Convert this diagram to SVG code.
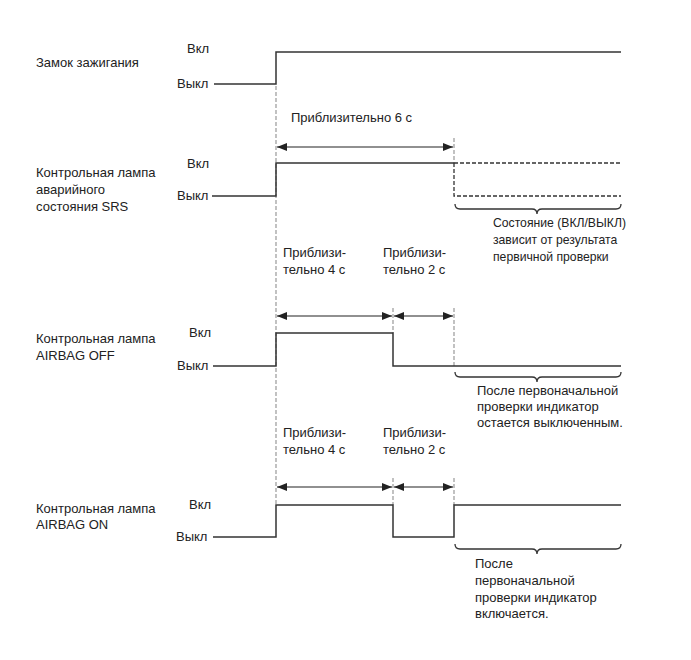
<svg xmlns="http://www.w3.org/2000/svg" width="691" height="660" viewBox="0 0 691 660">
<defs>
<marker id="ah" viewBox="0 0 10 8" refX="10" refY="4" markerWidth="10" markerHeight="8" markerUnits="userSpaceOnUse" orient="auto-start-reverse">
<path d="M0,0 L10,4 L0,8 Z" fill="#222"/>
</marker>
<style>
text{font-family:"Liberation Sans",Arial,sans-serif;font-size:13px;fill:#222}
text.s{font-size:12.2px}
.sig{fill:none;stroke:#333;stroke-width:1.5}
.dsig{fill:none;stroke:#333;stroke-width:1.3;stroke-dasharray:4,2}
.guide{fill:none;stroke:#999;stroke-width:1.2;stroke-dasharray:4,2}
.dim{fill:none;stroke:#222;stroke-width:1.2;marker-start:url(#ah);marker-end:url(#ah)}
.brace{fill:none;stroke:#333;stroke-width:1.3}
</style>
</defs>
<rect width="691" height="660" fill="#fff"/>

<g id="connectors">
<line class="guide" x1="276" y1="86" x2="276" y2="505"/>
<line class="guide" x1="454" y1="138" x2="454" y2="163"/>
<line class="guide" x1="393" y1="308" x2="393" y2="333"/>
<line class="guide" x1="454" y1="308" x2="454" y2="366"/>
<line class="guide" x1="393" y1="478" x2="393" y2="505"/>
<line class="guide" x1="454" y1="478" x2="454" y2="505"/>
<line class="dim" x1="277" y1="147" x2="453" y2="147"/>
<line class="dim" x1="277" y1="316" x2="392" y2="316"/>
<line class="dim" x1="394" y1="316" x2="453" y2="316"/>
<line class="dim" x1="277" y1="487" x2="392" y2="487"/>
<line class="dim" x1="394" y1="487" x2="453" y2="487"/>
</g>

<g id="ignition">
<text x="36" y="67">Замок зажигания</text>
<text x="187" y="53">Вкл</text>
<text x="177" y="88">Выкл</text>
<polyline class="sig" points="214,84 276,84 276,52 621,52"/>
</g>

<g id="srs">
<text x="291" y="122">Приблизительно 6 с</text>
<text x="36" y="177">Контрольная лампа</text>
<text x="36" y="194">аварийного</text>
<text x="36" y="211">состояния SRS</text>
<text x="187" y="168">Вкл</text>
<text x="177" y="200">Выкл</text>
<polyline class="sig" points="212,196 276,196 276,163 454,163"/>
<line class="dsig" x1="454" y1="163" x2="621" y2="163"/>
<polyline class="dsig" points="454,163 454,196 621,196"/>
<path class="brace" d="M455,204 Q455,209 460,209 L532,209 Q537,209 537,214 Q537,209 542,209 L616,209 Q621,209 621,204"/>
<text class="s" x="493" y="227">Состояние (ВКЛ/ВЫКЛ)</text>
<text class="s" x="493" y="244">зависит от результата</text>
<text class="s" x="493" y="261">первичной проверки</text>
</g>

<g id="airbag-off">
<text x="283" y="257">Приблизи-</text>
<text x="283" y="274">тельно 4 с</text>
<text x="383" y="257">Приблизи-</text>
<text x="383" y="274">тельно 2 с</text>
<text x="36" y="343">Контрольная лампа</text>
<text x="36" y="360">AIRBAG OFF</text>
<text x="189" y="337">Вкл</text>
<text x="177" y="370">Выкл</text>
<polyline class="sig" points="213,366 276,366 276,333 393,333 393,366 621,366"/>
<path class="brace" d="M455,372 Q455,377 460,377 L532,377 Q537,377 537,382 Q537,377 542,377 L616,377 Q621,377 621,372"/>
<text x="477" y="395">После первоначальной</text>
<text x="477" y="411">проверки индикатор</text>
<text x="477" y="427">остается выключенным.</text>
</g>

<g id="airbag-on">
<text x="283" y="437">Приблизи-</text>
<text x="283" y="454">тельно 4 с</text>
<text x="383" y="437">Приблизи-</text>
<text x="383" y="454">тельно 2 с</text>
<text x="36" y="513">Контрольная лампа</text>
<text x="36" y="529">AIRBAG ON</text>
<text x="189" y="509">Вкл</text>
<text x="176" y="541">Выкл</text>
<polyline class="sig" points="213,537 276,537 276,505 393,505 393,537 454,537 454,505 621,505"/>
<path class="brace" d="M455,544 Q455,549 460,549 L532,549 Q537,549 537,554 Q537,549 542,549 L616,549 Q621,549 621,544"/>
<text x="475" y="568">После</text>
<text x="475" y="585">первоначальной</text>
<text x="475" y="602">проверки индикатор</text>
<text x="475" y="618">включается.</text>
</g>
</svg>
